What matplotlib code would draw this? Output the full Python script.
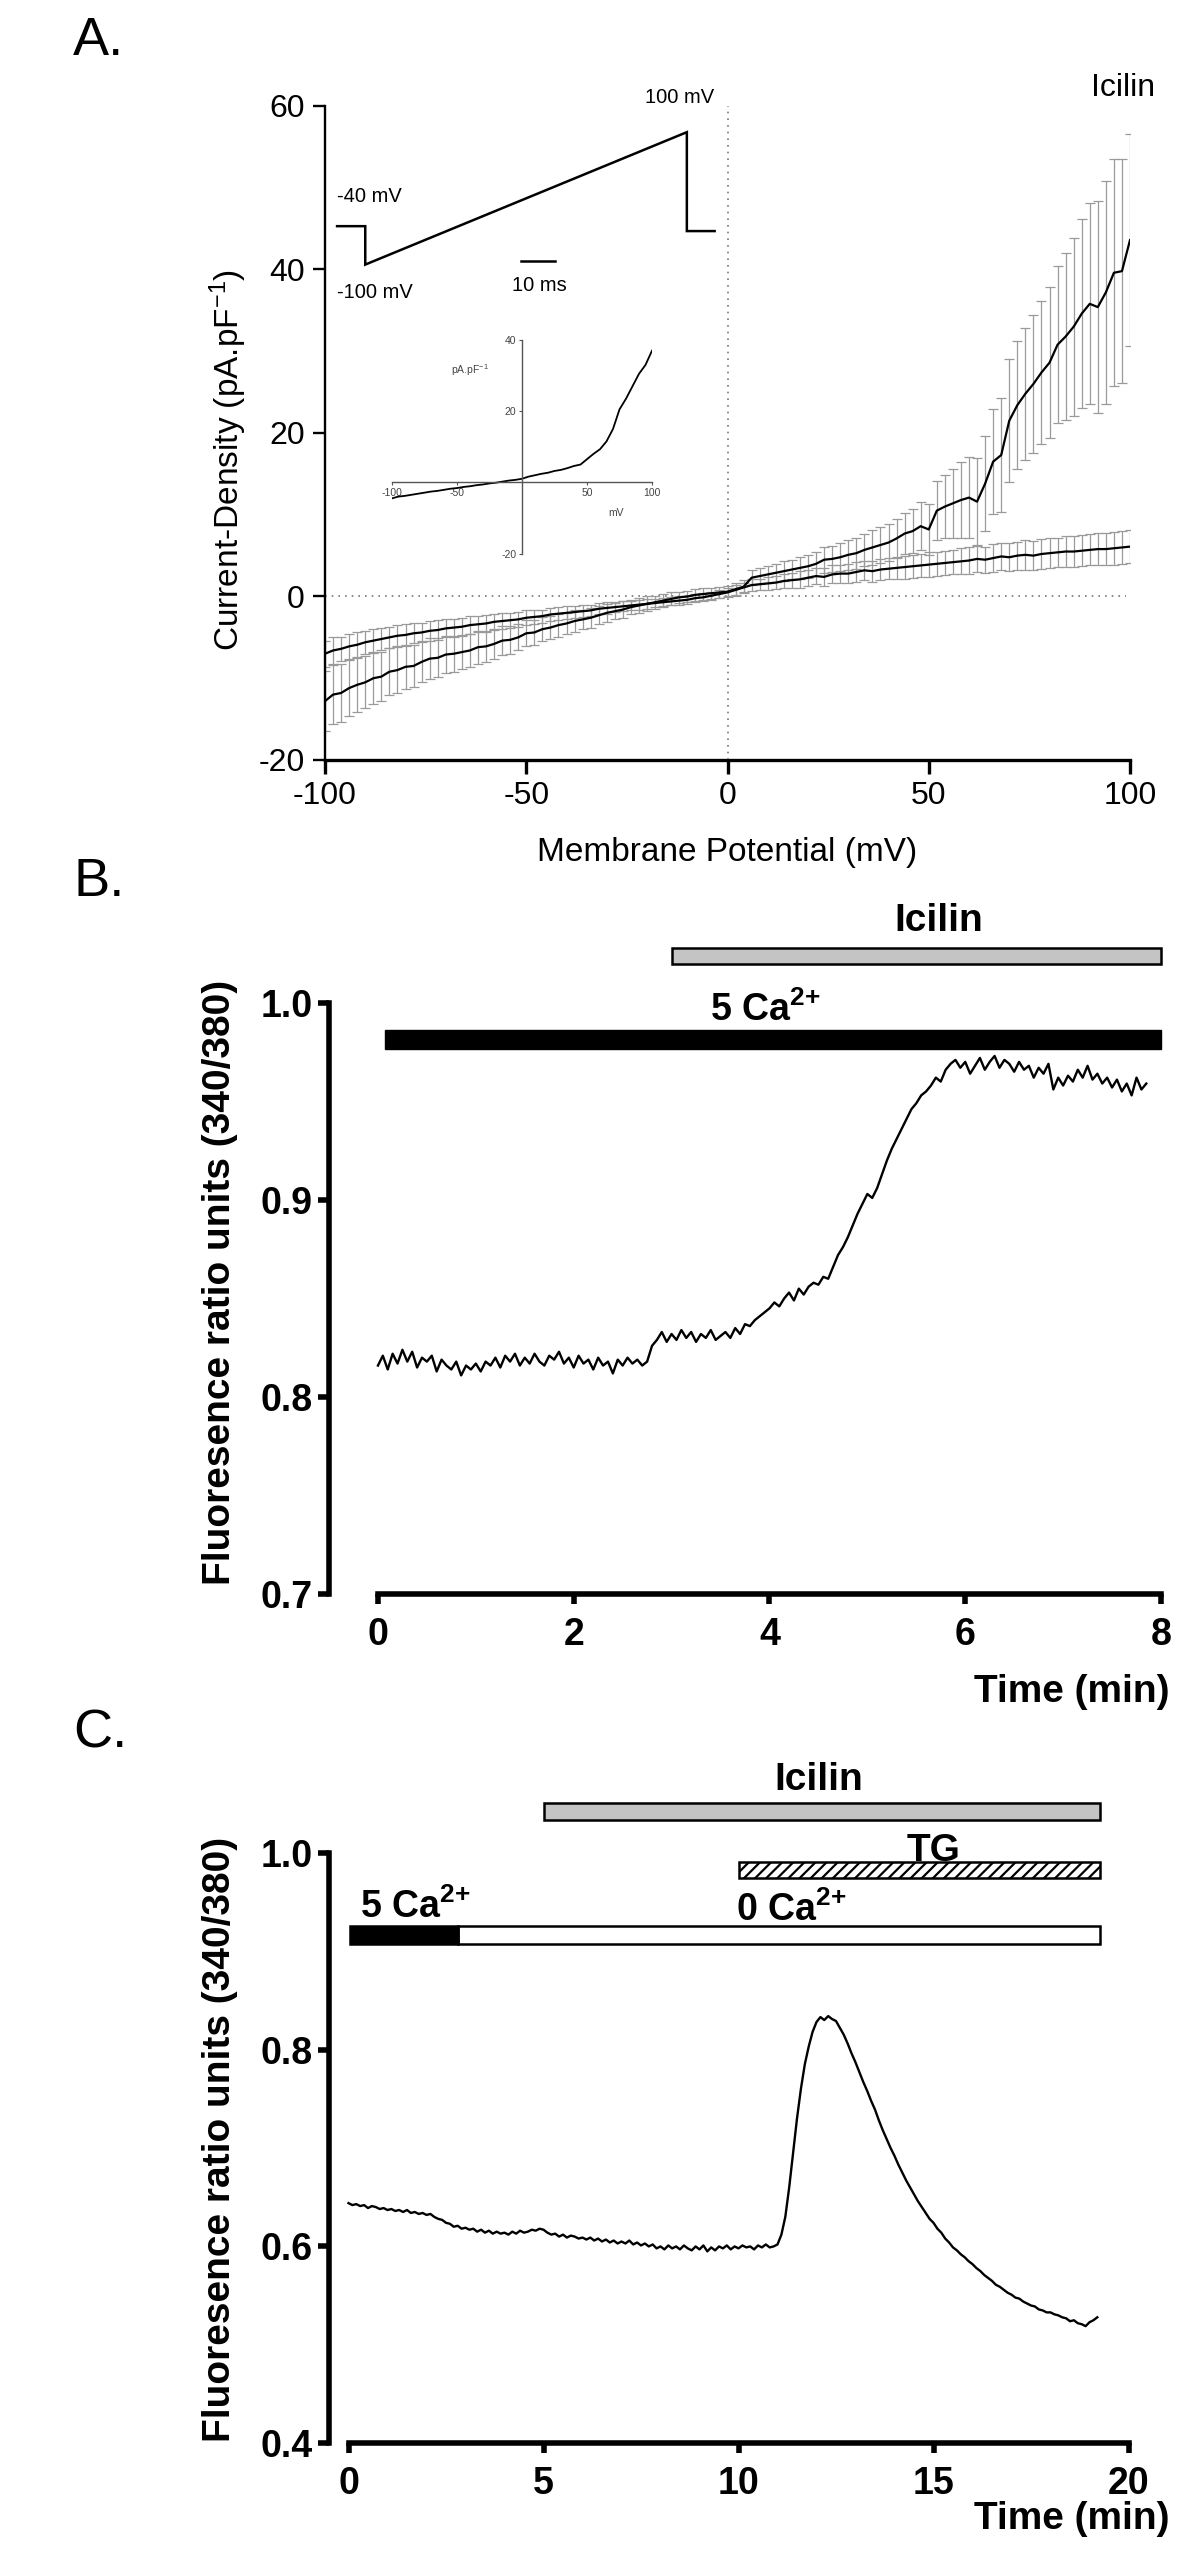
import numpy as np
import matplotlib
matplotlib.use("Agg")
import matplotlib.pyplot as plt
from matplotlib.patches import Rectangle

plt.rcParams['font.family'] = ['Liberation Sans', 'DejaVu Sans']
plt.rcParams['mathtext.fontset'] = 'custom'
plt.rcParams['mathtext.rm'] = 'Liberation Sans'
plt.rcParams['mathtext.bf'] = 'Liberation Sans:bold'
plt.rcParams['mathtext.it'] = 'Liberation Sans:italic'
plt.rcParams['hatch.linewidth'] = 1.6
plt.rcParams['axes.unicode_minus'] = False

# ---------------- panel A: current density vs membrane potential ----------------
voltage = list(range(-100, 101, 2))

icilin_mean = [
    -12.8, -12.0, -11.8, -11.2, -10.8, -10.5, -10.0, -9.8, -9.2, -9.0,
    -8.6, -8.5, -8.0, -7.6, -7.5, -7.1, -7.0, -6.8, -6.6, -6.2,
    -6.1, -5.8, -5.4, -5.3, -5.0, -4.5, -4.4, -4.0, -3.8, -3.5,
    -3.3, -3.0, -2.8, -2.6, -2.3, -2.0, -1.8, -1.6, -1.3, -1.1,
    -0.9, -0.7, -0.5, -0.3, -0.1, 0.0, 0.2, 0.3, 0.4, 0.5,
    0.6, 0.9, 1.2, 2.3, 2.5, 2.7, 2.9, 3.1, 3.3, 3.5,
    3.7, 4.0, 4.5, 4.6, 4.8, 5.1, 5.3, 5.7, 6.0, 6.3,
    6.6, 7.1, 7.7, 8.0, 8.6, 8.2, 10.5, 11.0, 11.4, 11.8,
    12.1, 11.6, 13.8, 16.5, 17.3, 21.5, 23.4, 24.8, 26.0, 27.4,
    28.6, 30.8, 31.8, 33.0, 34.6, 35.8, 35.4, 37.2, 39.6, 39.8,
    43.6]
icilin_sem = [
    3.7, 3.6, 3.5, 3.4, 3.3, 3.2, 3.1, 3.0, 2.9, 2.8,
    2.7, 2.6, 2.5, 2.5, 2.4, 2.3, 2.2, 2.1, 2.0, 2.0,
    1.9, 1.8, 1.8, 1.7, 1.6, 1.6, 1.5, 1.5, 1.4, 1.4,
    1.3, 1.3, 1.2, 1.2, 1.1, 1.1, 1.0, 1.0, 0.9, 0.9,
    0.9, 0.8, 0.8, 0.8, 0.7, 0.7, 0.7, 0.7, 0.7, 0.7,
    0.7, 0.8, 0.8, 0.9, 1.0, 1.0, 1.1, 1.2, 1.2, 1.3,
    1.4, 1.5, 1.6, 1.6, 1.7, 1.8, 1.9, 2.0, 2.1, 2.2,
    2.3, 2.4, 2.5, 2.7, 2.9, 3.1, 3.6, 3.9, 4.2, 4.6,
    5.0, 5.3, 5.8, 6.4, 7.0, 7.5, 7.8, 8.1, 8.4, 8.8,
    9.2, 9.6, 10.2, 10.9, 11.6, 12.3, 13.0, 13.6, 13.9, 13.7,
    13.0]
control_mean = [
    -7.0, -6.6, -6.4, -6.1, -5.9, -5.6, -5.4, -5.2, -5.0, -4.8,
    -4.7, -4.5, -4.4, -4.2, -4.1, -3.9, -3.8, -3.7, -3.5, -3.4,
    -3.3, -3.1, -3.0, -2.9, -2.8, -2.6, -2.5, -2.4, -2.2, -2.1,
    -2.0, -1.9, -1.8, -1.7, -1.5, -1.4, -1.3, -1.2, -1.1, -1.0,
    -0.9, -0.8, -0.7, -0.6, -0.5, -0.4, -0.2, -0.1, 0.1, 0.3,
    0.5, 0.8, 1.1, 1.4, 1.5, 1.6, 1.7, 1.9, 2.0, 2.1,
    2.3, 2.5, 2.4, 2.7, 2.8, 2.8, 3.0, 3.2, 3.1, 3.3,
    3.4, 3.5, 3.6, 3.7, 3.8, 3.9, 4.0, 4.1, 4.2, 4.3,
    4.4, 4.6, 4.5, 4.7, 4.9, 4.8, 5.0, 5.1, 5.0, 5.2,
    5.3, 5.4, 5.5, 5.5, 5.6, 5.7, 5.8, 5.8, 5.9, 6.0,
    6.1]
control_sem = [
    1.6, 1.6, 1.5, 1.5, 1.5, 1.4, 1.4, 1.4, 1.3, 1.3,
    1.3, 1.2, 1.2, 1.2, 1.2, 1.1, 1.1, 1.1, 1.1, 1.0,
    1.0, 1.0, 1.0, 0.9, 0.9, 0.9, 0.9, 0.8, 0.8, 0.8,
    0.8, 0.7, 0.7, 0.7, 0.7, 0.7, 0.6, 0.6, 0.6, 0.6,
    0.6, 0.5, 0.5, 0.5, 0.5, 0.5, 0.5, 0.5, 0.5, 0.5,
    0.5, 0.6, 0.6, 0.7, 0.7, 0.8, 0.8, 0.9, 0.9, 1.0,
    1.0, 1.0, 1.1, 1.1, 1.1, 1.2, 1.2, 1.2, 1.3, 1.3,
    1.3, 1.3, 1.4, 1.4, 1.4, 1.5, 1.5, 1.5, 1.5, 1.6,
    1.6, 1.6, 1.6, 1.7, 1.7, 1.7, 1.7, 1.8, 1.8, 1.8,
    1.8, 1.8, 1.9, 1.9, 1.9, 1.9, 2.0, 2.0, 2.0, 2.0,
    2.0]

# voltage ramp protocol sketch (drawn in panel A data units)
ramp_x = [-97, -90, -90, -10.1, -10.1, -3.2]
ramp_y = [45.3, 45.3, 40.6, 56.8, 44.7, 44.7]

# single-cell IV shown in the small inset
inset_v = list(range(-100, 101, 5))
inset_i = [-4.5, -4.0, -3.8, -3.5, -3.2, -2.9, -2.6, -2.4, -2.1, -1.8,
           -1.6, -1.3, -1.1, -0.8, -0.6, -0.3, -0.1, 0.2, 0.5, 0.7,
           1.0, 1.6, 2.0, 2.4, 2.7, 3.2, 3.5, 4.0, 4.6, 5.0,
           6.5, 8.0, 9.3, 11.5, 15.0, 20.5, 23.5, 27.0, 30.5, 33.0,
           37.0]

# ---------------- panel B: ratio trace, 5 Ca2+ then icilin ----------------
ratio_b = [
    0.816, 0.821, 0.814, 0.822, 0.817, 0.824, 0.818, 0.823, 0.815, 0.820,
    0.818, 0.821, 0.813, 0.819, 0.816, 0.814, 0.818, 0.811, 0.816, 0.814,
    0.817, 0.813, 0.818, 0.816, 0.820, 0.815, 0.821, 0.818, 0.822, 0.816,
    0.820, 0.817, 0.822, 0.818, 0.816, 0.821, 0.819, 0.823, 0.817, 0.820,
    0.815, 0.821, 0.817, 0.819, 0.814, 0.820, 0.816, 0.818, 0.812, 0.819,
    0.816, 0.820, 0.817, 0.819, 0.816, 0.818, 0.826, 0.829, 0.833, 0.828,
    0.832, 0.829, 0.834, 0.830, 0.833, 0.828, 0.832, 0.830, 0.834, 0.829,
    0.831, 0.833, 0.830, 0.835, 0.832, 0.837, 0.836, 0.839, 0.841, 0.843,
    0.845, 0.848, 0.846, 0.850, 0.853, 0.849, 0.855, 0.852, 0.856, 0.858,
    0.857, 0.861, 0.860, 0.866, 0.872, 0.876, 0.881, 0.887, 0.893, 0.898,
    0.903, 0.901, 0.906, 0.913, 0.920, 0.926, 0.931, 0.936, 0.941, 0.946,
    0.949, 0.953, 0.955, 0.958, 0.962, 0.960, 0.966, 0.969, 0.971, 0.967,
    0.970, 0.964, 0.968, 0.972, 0.966, 0.970, 0.973, 0.967, 0.971, 0.969,
    0.965, 0.970, 0.966, 0.968, 0.962, 0.967, 0.964, 0.969, 0.956, 0.962,
    0.958, 0.963, 0.960, 0.966, 0.962, 0.968, 0.961, 0.964, 0.959, 0.962,
    0.957, 0.961, 0.955, 0.959, 0.953, 0.962, 0.956, 0.959]
b_icilin = (3.0, 8.0)
b_ca5 = (0.07, 8.0)

# ---------------- panel C: ratio trace, 0 Ca2+ with icilin and TG ----------------
ratio_c = [
    0.644, 0.642, 0.643, 0.641, 0.642, 0.639, 0.641, 0.640, 0.638, 0.639,
    0.637, 0.638, 0.636, 0.637, 0.635, 0.637, 0.634, 0.635, 0.633, 0.634,
    0.632, 0.633, 0.630, 0.628, 0.627, 0.624, 0.623, 0.620, 0.621, 0.618,
    0.619, 0.617, 0.618, 0.615, 0.617, 0.614, 0.616, 0.613, 0.615, 0.613,
    0.614, 0.612, 0.615, 0.613, 0.616, 0.614, 0.615, 0.617, 0.616, 0.618,
    0.617, 0.614, 0.612, 0.613, 0.610, 0.612, 0.609, 0.611, 0.610, 0.608,
    0.609, 0.607, 0.609, 0.606, 0.608, 0.605, 0.607, 0.604, 0.606, 0.603,
    0.605, 0.603, 0.606, 0.602, 0.604, 0.601, 0.603, 0.600, 0.602, 0.598,
    0.600, 0.597, 0.601, 0.598, 0.600, 0.597, 0.601, 0.598, 0.596, 0.600,
    0.597, 0.601, 0.595, 0.599, 0.596, 0.600, 0.598, 0.601, 0.597, 0.600,
    0.598, 0.601, 0.599, 0.600, 0.597, 0.601, 0.599, 0.602, 0.599, 0.600,
    0.602, 0.612, 0.630, 0.660, 0.695, 0.730, 0.760, 0.785, 0.803, 0.818,
    0.828, 0.833, 0.830, 0.834, 0.831, 0.829, 0.822, 0.815, 0.806, 0.796,
    0.787, 0.777, 0.767, 0.758, 0.748, 0.739, 0.728, 0.718, 0.709, 0.700,
    0.692, 0.683, 0.675, 0.667, 0.660, 0.653, 0.646, 0.640, 0.634, 0.628,
    0.624, 0.618, 0.614, 0.608, 0.604, 0.599, 0.596, 0.592, 0.589, 0.585,
    0.582, 0.578, 0.575, 0.571, 0.568, 0.565, 0.561, 0.559, 0.556, 0.553,
    0.551, 0.548, 0.547, 0.544, 0.542, 0.540, 0.539, 0.536, 0.535, 0.533,
    0.533, 0.531, 0.530, 0.528, 0.527, 0.524, 0.525, 0.522, 0.521, 0.519,
    0.523, 0.525, 0.528]
c_icilin = (5.0, 19.27)
c_tg = (10.0, 19.27)
c_ca5 = (0.03, 2.8)
c_ca0 = (2.8, 19.27)

W, H = 1200, 2568
fig = plt.figure(figsize=(W / 100, H / 100), dpi=100)


def rect(left, top, right, bottom):
    # pixel box -> figure fraction
    return [left / W, 1 - bottom / H, (right - left) / W, (bottom - top) / H]


def fxy(x, y):
    return x / W, 1 - y / H


def bar(ax, span, y0, y1, **kw):
    ax.add_patch(Rectangle((span[0], y0), span[1] - span[0], y1 - y0,
                           clip_on=False, zorder=4, **kw))


CA = r'%s Ca$^{\mathbf{2{+}}}$'

# ---- A ----
ax = fig.add_axes(rect(325, 106, 1130, 760))
ax.errorbar(voltage, icilin_mean, yerr=icilin_sem, fmt='none', ecolor='#9a9a9a',
            elinewidth=0.9, capsize=3.5, capthick=0.9, zorder=2)
ax.errorbar(voltage, control_mean, yerr=control_sem, fmt='none', ecolor='#9a9a9a',
            elinewidth=0.9, capsize=3.5, capthick=0.9, zorder=2)
ax.plot(voltage, icilin_mean, color='black', lw=1.6, zorder=3)
ax.plot(voltage, control_mean, color='black', lw=1.6, zorder=3)
ax.plot([0, 0], [-20, 60], color='#777777', lw=1.2, ls=(0, (1, 3)), zorder=1)
ax.plot([-100, 99], [0, 0], color='#777777', lw=1.2, ls=(0, (1, 3)), zorder=1)
ax.plot(ramp_x, ramp_y, color='black', lw=1.8, solid_joinstyle='miter')
ax.plot([-51.3, -42.8], [41.0, 41.0], color='black', lw=1.8)
ax.text(-97, 48.9, '-40 mV', fontsize=14.5, ha='left', va='center')
ax.text(-97, 37.2, '-100 mV', fontsize=14.5, ha='left', va='center')
ax.text(-11.9, 61.1, '100 mV', fontsize=14.5, ha='center', va='center')
ax.text(-46.8, 38.1, '10 ms', fontsize=14.5, ha='center', va='center')
ax.set_xlim(-100, 100)
ax.set_ylim(-20, 60)
for s in ['top', 'right']:
    ax.spines[s].set_visible(False)
ax.spines['left'].set_linewidth(1.7)
ax.spines['bottom'].set_linewidth(2.4)
ax.set_xticks([-100, -50, 0, 50, 100])
ax.set_yticks([-20, 0, 20, 40, 60])
ax.tick_params(axis='y', length=8.5, width=1.7, labelsize=23, pad=6)
ax.tick_params(axis='x', length=10, width=2.4, labelsize=23, pad=5)

x, y = fxy(1123, 88)
fig.text(x, y, 'Icilin', fontsize=23, ha='center', va='center')
x, y = fxy(727.5, 852)
fig.text(x, y, 'Membrane Potential (mV)', fontsize=24, ha='center', va='center')
x, y = fxy(228, 460)
fig.text(x, y, r'Current-Density (pA.pF$^{\mathregular{-1}}$)', fontsize=24,
         ha='center', va='center', rotation=90)

# small IV inset
axi = fig.add_axes(rect(392, 340, 652, 553.5))
axi.set_facecolor('none')
axi.plot(inset_v, inset_i, color='black', lw=1.3)
axi.set_xlim(-100, 100)
axi.set_ylim(-20, 40)
for s in ['top', 'right']:
    axi.spines[s].set_visible(False)
for s in ['left', 'bottom']:
    axi.spines[s].set_position(('data', 0))
    axi.spines[s].set_color('#555555')
    axi.spines[s].set_linewidth(1.0)
axi.set_xticks([-100, -50, 50, 100])
axi.set_yticks([-20, 20, 40])
axi.tick_params(length=2.5, width=0.8, color='#555555', labelsize=7.5,
                labelcolor='#444444', pad=1.5)
axi.text(-40, 31.5, r'pA.pF$^{\mathregular{-1}}$', fontsize=7.5, color='#444444',
         ha='center', va='center')
axi.text(72, -8.7, 'mV', fontsize=7.5, color='#444444', ha='center', va='center')

x, y = fxy(73, 55)
fig.text(x, y, 'A.', fontsize=39, ha='left', va='baseline')


def style_ratio_axes(ax, xmax, xticks, yticks, ylo):
    ax.set_xlim(-0.5, xmax)
    for s in ['top', 'right']:
        ax.spines[s].set_visible(False)
    ax.spines['left'].set_linewidth(4)
    ax.spines['bottom'].set_linewidth(4)
    ax.spines['left'].set_bounds(ylo, 1.0)
    ax.spines['bottom'].set_bounds(0, xmax)
    ax.set_xticks(xticks)
    ax.set_yticks(yticks)
    ax.set_yticklabels(['%.1f' % v for v in yticks])
    ax.tick_params(axis='y', length=8, width=4, labelsize=27, pad=4)
    ax.tick_params(axis='x', length=7, width=4, labelsize=27, pad=9)
    for lab in ax.get_xticklabels() + ax.get_yticklabels():
        lab.set_fontweight('bold')


# ---- B ----
axb = fig.add_axes(rect(329, 1002.7, 1161, 1594.3))
time_b = np.arange(len(ratio_b)) * 0.05
axb.plot(time_b, ratio_b, color='black', lw=1.7)
axb.set_ylim(0.7, 1.0)
style_ratio_axes(axb, 8, [0, 2, 4, 6, 8], [0.7, 0.8, 0.9, 1.0], 0.7)
bar(axb, b_icilin, 1.0197, 1.0279, facecolor='#c4c4c4', edgecolor='black', lw=1.8)
bar(axb, b_ca5, 0.9765, 0.9862, facecolor='black', edgecolor='black', lw=1)
axb.text(5.73, 1.0364, 'Icilin', fontsize=28, fontweight='bold', ha='center',
         va='baseline')
axb.text(3.96, 0.9907, CA % '5', fontsize=27, fontweight='bold',
         ha='center', va='baseline')
x, y = fxy(1169, 1692)
fig.text(x, y, 'Time (min)', fontsize=28, fontweight='bold', ha='right', va='center')
x, y = fxy(220, 1282)
fig.text(x, y, 'Fluoresence ratio units (340/380)', fontsize=28, fontweight='bold',
         ha='center', va='center', rotation=90)
x, y = fxy(73, 896)
fig.text(x, y, 'B.', fontsize=39, ha='left', va='baseline')

# ---- C ----
axc = fig.add_axes(rect(329, 1852.7, 1128.5, 2443.3))
time_c = np.arange(len(ratio_c)) * 0.1
axc.plot(time_c, ratio_c, color='black', lw=1.7)
axc.set_ylim(0.4, 1.0)
style_ratio_axes(axc, 20, [0, 5, 10, 15, 20], [0.4, 0.6, 0.8, 1.0], 0.4)
bar(axc, c_icilin, 1.0328, 1.0501, facecolor='#c4c4c4', edgecolor='black', lw=1.8)
bar(axc, c_tg, 0.9741, 0.9902, facecolor='white', edgecolor='black', lw=1.8,
    hatch='///')
bar(axc, c_ca0, 0.9077, 0.9255, facecolor='white', edgecolor='black', lw=1.8)
bar(axc, c_ca5, 0.9077, 0.9255, facecolor='black', edgecolor='black', lw=1.8)
axc.text(12.06, 1.0633, 'Icilin', fontsize=28, fontweight='bold', ha='center',
         va='baseline')
axc.text(15.0, 0.9915, 'TG', fontsize=28, fontweight='bold', ha='center',
         va='baseline', zorder=5)
axc.text(0.29, 0.9333, CA % '5', fontsize=27, fontweight='bold',
         ha='left', va='baseline')
axc.text(9.94, 0.931, CA % '0', fontsize=27, fontweight='bold',
         ha='left', va='baseline')
x, y = fxy(1169, 2519)
fig.text(x, y, 'Time (min)', fontsize=28, fontweight='bold', ha='right', va='center')
x, y = fxy(220, 2139)
fig.text(x, y, 'Fluoresence ratio units (340/380)', fontsize=28, fontweight='bold',
         ha='center', va='center', rotation=90)
x, y = fxy(73, 1748)
fig.text(x, y, 'C.', fontsize=39, ha='left', va='baseline')

fig.savefig('out.png', dpi=100)
